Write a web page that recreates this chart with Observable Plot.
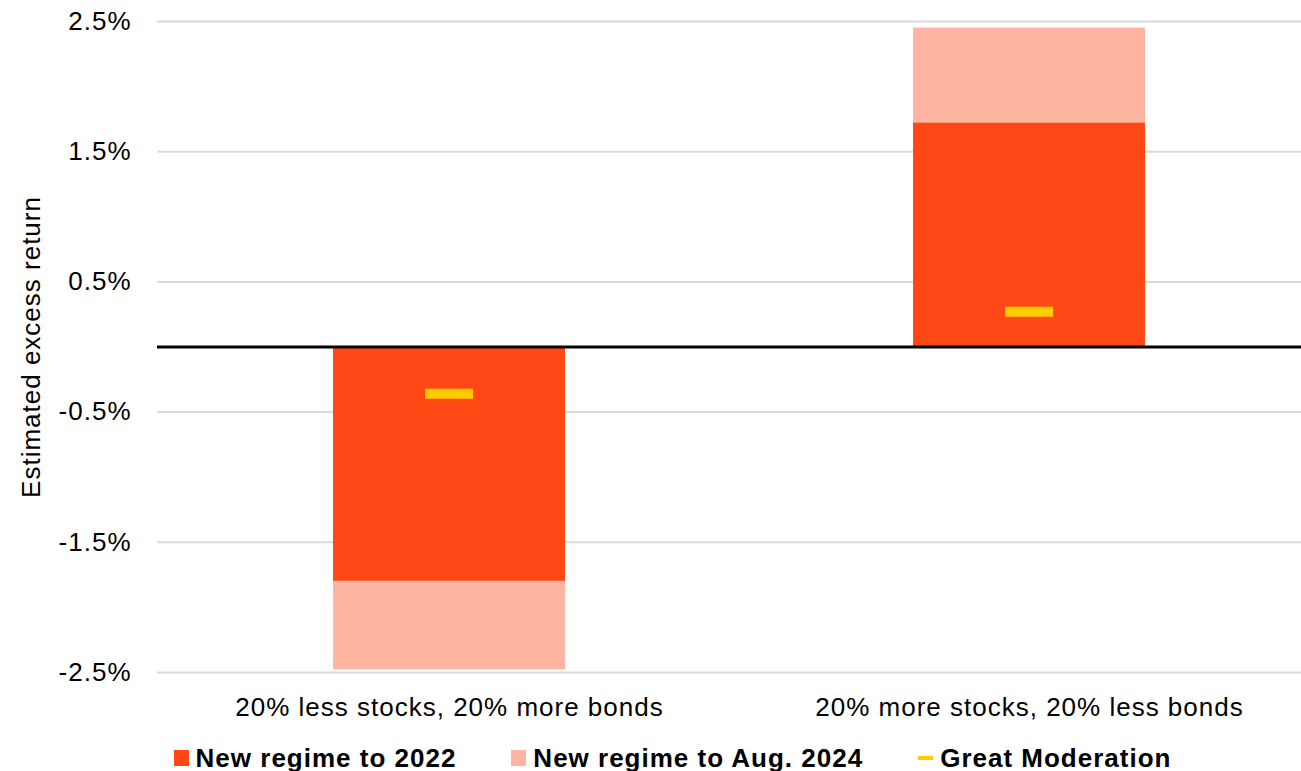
<!DOCTYPE html>
<html><head><meta charset="utf-8">
<script src="https://cdn.jsdelivr.net/npm/d3@7"></script>
<script src="https://cdn.jsdelivr.net/npm/@observablehq/plot@0.6"></script>
<style>
body{margin:0;background:#fff;font-family:"Liberation Sans",Arial,sans-serif;}
#legend{display:flex;justify-content:center;align-items:center;gap:55px;padding-left:44px;height:36px;font-weight:bold;font-size:26px;letter-spacing:1px;color:#000;white-space:nowrap}
.item{display:flex;align-items:center;gap:7px}
.sw{width:15px;height:16px;display:inline-block}
.dash{width:15px;height:4px;background:#ffcc00;display:inline-block}
</style></head><body>
<div id="chart"></div>
<div id="legend"></div>
<script>
const categories = ["20% less stocks, 20% more bonds", "20% more stocks, 20% less bonds"];
const newRegime2022 = [-1.8, 1.72];
const newRegimeAug2024 = [-2.48, 2.45];
const greatModeration = [-0.36, 0.27];
const yTicks = [-2.5, -1.5, -0.5, 0.5, 1.5, 2.5];
const seriesNames = ["New regime to 2022", "New regime to Aug. 2024", "Great Moderation"];
const colors = ["#ff4814", "#ffb5a1", "#ffcc00"];

const data = categories.map((c, i) => ({category: c, v2022: newRegime2022[i], vAug: newRegimeAug2024[i], gm: greatModeration[i]}));
const fmt = d => d.toFixed(1) + "%";

const chart = Plot.plot({
  width: 1301, height: 740,
  marginTop: 21, marginBottom: 68, marginLeft: 157, marginRight: 0,
  style: {fontFamily: "'Liberation Sans', Arial, sans-serif", fontSize: "26px", letterSpacing: "1px", color: "#000", background: "#fff"},
  x: {domain: categories, paddingInner: 0.6, paddingOuter: 0.285, align: 0.53, label: null},
  y: {domain: [-2.5, 2.5], label: null},
  marks: [
    Plot.ruleY(yTicks, {stroke: "#d9d9e1", strokeWidth: 2}),
    Plot.axisY({ticks: yTicks, tickFormat: fmt, tickSize: 0, tickPadding: 26, label: "Estimated excess return", labelAnchor: "center", labelArrow: "none", labelOffset: 136}),
    Plot.axisX({tickSize: 0, tickPadding: 25, label: null}),
    Plot.barY(data, {x: "category", y1: "v2022", y2: "vAug", fill: colors[1]}),
    Plot.barY(data, {x: "category", y1: 0, y2: "v2022", fill: colors[0]}),
    Plot.tickY(data, {x: "category", y: "gm", stroke: colors[2], strokeWidth: 10, insetLeft: 92, insetRight: 92}),
    Plot.ruleY([0], {stroke: "#000", strokeWidth: 3})
  ]
});
document.getElementById("chart").append(chart);

const legend = document.getElementById("legend");
seriesNames.forEach((name, i) => {
  const item = document.createElement("div");
  item.className = "item";
  const sw = document.createElement("span");
  if (i === 2) { sw.className = "dash"; } else { sw.className = "sw"; sw.style.background = colors[i]; }
  const t = document.createElement("span");
  t.textContent = name;
  item.append(sw, t);
  legend.append(item);
});
</script>
</body></html>
